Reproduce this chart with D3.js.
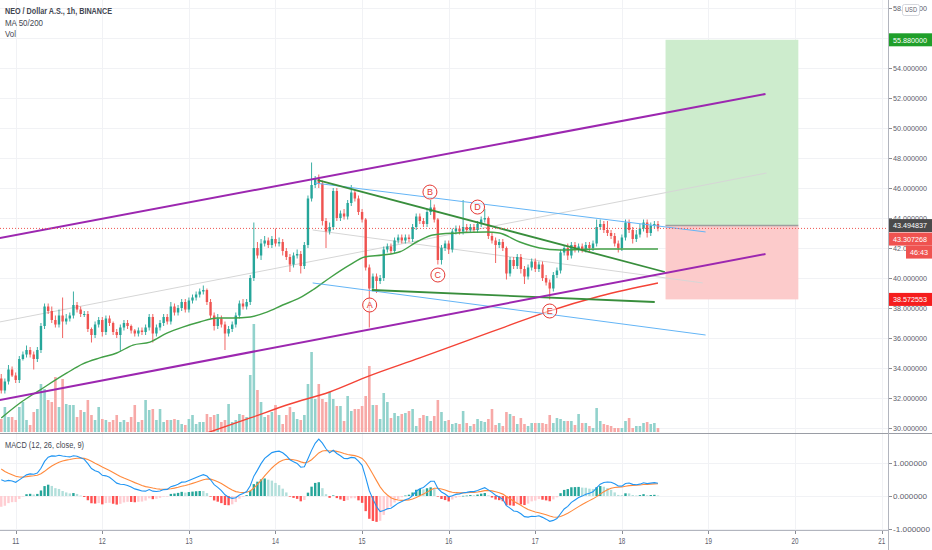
<!DOCTYPE html>
<html>
<head>
<meta charset="utf-8">
<script src="https://cdn.jsdelivr.net/npm/d3@7"></script>
<style>
  html, body { margin: 0; padding: 0; background: #fff; }
  svg { display: block; font-family: "Liberation Sans", Arial, sans-serif; }
</style>
</head>
<body>
<script>
// hourly NEO/USD bars, first bar = day 10 20:00
var firstOpen = 33.3;
var closes = [
  32.5,33.1,33.9,33.5,33.2,34.6,34.9,35.2,34.9,34.6,
  35.2,36.8,38.1,37.8,37.2,36.9,37.5,37.1,37.3,37.5,
  38.2,37.9,37.6,37.6,36.6,36.2,36.9,37.2,36.4,37.3,
  37.0,36.4,36.2,36.7,37.0,36.8,36.5,36.3,36.5,36.4,
  36.7,37.4,36.3,36.7,37.0,37.4,37.1,38.1,37.7,38.0,
  38.4,37.9,38.5,38.7,38.9,39.1,39.2,38.4,37.5,36.8,
  37.3,36.9,36.3,36.6,36.9,37.5,38.3,38.1,38.4,40.0,
  42.0,41.5,42.3,42.5,42.2,42.6,42.3,42.4,41.8,41.4,
  40.9,41.5,41.6,40.8,42.2,45.3,46.2,46.6,46.3,43.8,
  43.1,43.4,45.8,44.0,44.3,44.1,45.0,45.7,45.3,44.4,
  43.9,40.7,39.3,40.1,39.8,40.0,41.9,42.1,41.8,42.5,
  42.7,42.5,42.7,42.6,43.4,44.1,43.8,43.6,44.4,44.7,
  43.9,41.2,42.0,42.3,41.9,43.1,43.3,43.1,43.4,43.2,
  43.4,43.2,43.6,43.9,44.0,42.8,42.5,42.2,42.4,42.0,
  40.3,41.2,40.8,41.4,40.6,40.1,40.7,41.1,40.6,40.9,
  40.0,39.7,39.3,40.2,40.5,41.7,42.0,41.5,42.2,41.9,
  42.1,41.9,42.2,42.0,42.3,43.4,43.6,43.2,43.0,42.8,
  42.3,42.0,42.7,43.7,43.2,42.6,42.9,43.3,43.7,43.0,
  43.5,43.6,43.31
];
// wick length above / below the body
var wickUp = [
  .3,.2,.3,.2,.2,.2,.2,.3,.2,.2,
  .2,.2,.2,.2,.3,.3,.4,1.2,.3,.2,
  .9,.2,.2,.2,.2,.1,.2,.2,.2,.2,
  .2,.1,.2,.2,.2,.2,.1,.1,.2,.2,
  .2,.2,.2,.2,.2,.2,.2,.3,.2,.2,
  .2,.2,.2,.2,.2,.2,.3,.1,.2,.2,
  .3,.2,.2,.2,.2,.2,.2,.3,.2,.2,
  1.7,.4,.3,.3,.2,.2,.7,.3,.2,.2,
  .2,.2,.3,.2,.2,.2,1.5,.2,.3,.2,
  .2,.3,.2,.2,.2,.3,.2,.5,.2,.2,
  .2,.1,.2,.2,.2,.2,.2,.2,.2,.2,
  .2,.2,.2,.2,.2,.2,.2,.2,.2,.5,
  .2,.1,.2,.2,.2,.2,.2,.2,1.8,.2,
  .2,.2,.2,.2,.6,.1,.2,.2,.2,.2,
  .1,.2,.2,.2,.2,.2,.2,.2,.2,.2,
  .2,.2,.2,.2,.2,.2,.2,.3,.2,.2,
  .2,.2,.2,.2,.2,.5,.3,.2,.6,.2,
  .2,.2,.2,.2,.2,.2,.3,.3,.2,.2,
  .2,.2,.2
];
var wickDn = [
  .2,.2,.2,.1,.2,.2,.1,.2,.2,.7,
  .2,.2,.2,.2,.2,.2,.2,1.1,.2,.2,
  .2,.2,.2,.2,.2,.5,.2,.2,.3,.2,
  .2,.2,.2,1.1,.2,.2,.2,.2,.2,.2,
  .2,.2,.6,.2,.2,.2,.2,.2,.2,.2,
  .2,.2,.2,.2,.2,.2,.2,.2,.2,.3,
  .2,.2,1.1,.2,.2,.2,.2,.2,.2,.2,
  .2,.2,.3,.2,.2,.2,.2,.2,.3,.2,
  .5,.2,.2,.5,.2,.2,.2,.2,.3,.3,
  1.1,.2,.2,.2,.2,.2,.2,.2,.2,.2,
  .2,.2,2.6,.2,.8,.2,.2,.2,.2,.2,
  .2,.2,.2,.2,.2,.2,.2,.2,.2,.2,
  .2,.3,.3,.2,.3,.2,.2,.2,.2,.2,
  .2,.2,.2,.2,.2,.2,.2,1.2,.2,.2,
  .4,.2,.2,.2,.3,.5,.2,.2,.2,.2,
  .2,.2,.73,.2,.2,.2,.2,.3,.2,.2,
  .2,.2,.2,.2,.2,.2,.2,.2,.2,.2,
  .2,.3,.2,.2,.2,.3,.2,.2,.2,.3,
  .2,.2,.2
];
var volumes = [
  13,25,15,15,12,25,30,12,7,20,
  23,48,43,32,30,55,25,53,28,27,
  27,15,22,20,32,17,12,25,13,12,
  10,12,17,10,12,10,15,27,10,12,
  32,22,23,12,23,10,12,12,13,12,
  8,7,13,17,8,10,10,18,15,17,
  18,10,12,28,10,12,18,17,15,57,
  108,42,30,15,17,20,27,17,8,17,
  25,20,13,12,17,48,80,33,48,33,
  30,40,33,26,26,11,36,21,23,23,
  26,36,66,27,27,13,39,30,14,19,
  16,18,19,21,23,6,14,17,16,11,
  16,32,20,11,12,8,9,8,21,9,
  6,8,13,11,10,13,23,7,9,6,
  20,18,16,8,14,8,6,9,9,9,
  9,8,17,9,14,13,11,11,11,7,
  18,9,9,6,4,24,11,8,7,6,
  4,4,4,11,14,4,6,6,9,10,
  8,9,4
];
// moving averages: [bar index, price]
var ma50 = [[0,30.67],[5.2,31.67],[10.7,32.53],[18.2,33.67],[22.6,34.27],[27.3,34.67],[32,35.0],
  [36.5,35.53],[41.2,35.73],[45.9,36.33],[50.3,36.73],[55,37.07],[59.8,37.33],[64.2,37.33],[69,37.4],
  [73.6,37.73],[78,38.2],[82.7,38.67],[86.3,39.2],[91,40.0],[96.6,40.87],[100.7,41.4],[105.7,41.53],
  [110.5,41.75],[115.5,42.45],[119.6,42.87],[126.2,43.0],[134.5,43.07],[138,43.0],[143.7,42.4],
  [149.2,42.0],[154.8,41.87],[165.9,41.93],[182,41.93]];
var ma200 = [[50,29.1],[57,29.67],[69,30.67],[80,31.6],[91,32.4],[102,33.47],[116,34.67],[128,35.73],
  [139.5,36.73],[151,37.73],[166,38.8],[182,39.67]];
// EMA12, EMA26 and signal values before the first bar
var macdSeed = [33.3, 32.7, 0.9];

// drawings: [bar index, price]
var purpleTop = [[-0.4, 42.67], [211.8, 52.27]];
var purpleBottom = [[-0.4, 31.87], [211.8, 41.6]];
var greyMid = [[-0.4, 37.07], [212.1, 47.0]];
var blueTop = [[86.9, 46.33], [195.2, 43.07]];
var blueBottom = [[86.3, 39.67], [195.2, 36.2]];
var greyLow = [[86.3, 43.2], [194.4, 39.67]];
var greenTop = [[87.7, 46.53], [183.9, 40.4]];
var greenBottom = [[102.7, 39.2], [181.1, 38.4]];
var waveLabels = ['A', 'B', 'C', 'D', 'E'];
var wavePoints = [[102.1, 38.2], [118.8, 45.73], [121, 40.2], [132, 44.73], [152, 37.8]];
var positionSpan = [184.1, 220.9];
var targetPrice = 55.88, entryPrice = 43.494837, stopPrice = 38.572553;
var lastPrice = 43.307268, countdown = '46:43';

var priceTicks = [30,32,34,36,38,40,42,44,46,48,50,52,54,56,58];
var macdTicks = [-1, 0, 1];
var dayTicks = [11,12,13,14,15,16,17,18,19,20,21];

var axisX = 888, mainBottom = 432, macdTop = 434, macdBottom = 530;
var t0 = new Date(2018, 5, 10, 20);
function barTime(i) { return new Date(t0.getTime() + i * 3600000); }

var x = d3.scaleTime()
  .domain([new Date(2018, 5, 10, 19, 39), new Date(2018, 5, 21, 1, 45)])
  .range([0, axisX]);
var y = d3.scaleLinear().domain([30, 54]).range([428, 68]);
var vy = d3.scaleLinear().domain([0, 100]).range([mainBottom, mainBottom - 100]);
var my = d3.scaleLinear().domain([-1, 1]).range([529, 463]);

var bars = closes.map(function(c, i) {
  var o = i === 0 ? firstOpen : closes[i - 1];
  return { t: barTime(i), o: o, c: c, h: Math.max(o, c) + wickUp[i], l: Math.min(o, c) - wickDn[i], v: volumes[i], up: c >= o };
});

// MACD 12/26/9
var e12 = macdSeed[0], e26 = macdSeed[1], sig = macdSeed[2];
bars.forEach(function(d, i) {
  e12 += (d.c - e12) * 2 / 13;
  e26 += (d.c - e26) * 2 / 27;
  d.macd = e12 - e26;
  sig += (d.macd - sig) * 2 / 10;
  d.signal = sig;
  d.hist = d.macd - sig;
  var prev = i ? bars[i - 1].hist : d.hist;
  if (d.hist >= 0) d.hcol = d.hist >= prev ? '#26a69a' : '#b2dfdb';
  else d.hcol = d.hist < prev ? '#ff5252' : '#ffcdd2';
});

var svg = d3.select('body').append('svg').attr('width', 932).attr('height', 550);
var defs = svg.append('defs');
defs.append('clipPath').attr('id', 'mainClip').append('rect')
  .attr('x', 0).attr('y', 0).attr('width', axisX).attr('height', mainBottom);
defs.append('clipPath').attr('id', 'macdClip').append('rect')
  .attr('x', 0).attr('y', macdTop).attr('width', axisX).attr('height', macdBottom - macdTop);

function fit(sel, w) { return sel.attr('textLength', w).attr('lengthAdjust', 'spacingAndGlyphs'); }
function px(d) { return x(barTime(d[0])); }
function py(d) { return y(d[1]); }

/*GRID*/
var grid = svg.append('g').attr('stroke', '#f1f2f5').attr('stroke-width', 1);
grid.selectAll('line.h').data(priceTicks).enter().append('line')
  .attr('x1', 0).attr('x2', axisX)
  .attr('y1', function(d) { return Math.round(y(d)) + 0.5; })
  .attr('y2', function(d) { return Math.round(y(d)) + 0.5; });
grid.selectAll('line.m').data(macdTicks).enter().append('line')
  .attr('x1', 0).attr('x2', axisX)
  .attr('y1', function(d) { return Math.round(my(d)) + 0.5; })
  .attr('y2', function(d) { return Math.round(my(d)) + 0.5; });
grid.selectAll('line.v').data(dayTicks).enter().append('line')
  .attr('x1', function(d) { return Math.round(x(new Date(2018, 5, d))) + 0.5; })
  .attr('x2', function(d) { return Math.round(x(new Date(2018, 5, d))) + 0.5; })
  .attr('y1', 0).attr('y2', macdBottom);

var main = svg.append('g').attr('clip-path', 'url(#mainClip)');

/*POSITION BOX*/
var bx0 = x(barTime(positionSpan[0])), bx1 = x(barTime(positionSpan[1]));
main.append('rect').attr('x', bx0).attr('width', bx1 - bx0)
  .attr('y', y(targetPrice)).attr('height', y(entryPrice) - y(targetPrice)).attr('fill', '#cdeccd');
main.append('rect').attr('x', bx0).attr('width', bx1 - bx0)
  .attr('y', y(entryPrice)).attr('height', y(stopPrice) - y(entryPrice)).attr('fill', '#fccbcb');
main.append('line').attr('x1', bx0).attr('x2', bx1)
  .attr('y1', y(entryPrice)).attr('y2', y(entryPrice))
  .attr('stroke', '#9e9e9e').attr('stroke-width', 1.5);

/*VOLUME*/
main.selectAll('rect.vol').data(bars).enter().append('rect')
  .attr('class', 'vol')
  .attr('x', function(d) { return x(d.t) - 1.3; })
  .attr('width', 2.6)
  .attr('y', function(d) { return vy(d.v); })
  .attr('height', function(d) { return mainBottom - vy(d.v); })
  .attr('fill', function(d) { return d.up ? '#92d2cc' : '#f7a9a7'; });

/*FAINT LINES*/
var seg = d3.line().x(px).y(py);
[greyMid, greyLow].forEach(function(l) {
  main.append('path').attr('d', seg(l)).attr('fill', 'none').attr('stroke', '#d6d6d6').attr('stroke-width', 1);
});

/*CANDLES*/
main.selectAll('line.wick').data(bars).enter().append('line')
  .attr('x1', function(d) { return x(d.t); })
  .attr('x2', function(d) { return x(d.t); })
  .attr('y1', function(d) { return y(d.h); })
  .attr('y2', function(d) { return y(d.l); })
  .attr('stroke', function(d) { return d.up ? '#26a69a' : '#ef5350'; })
  .attr('stroke-width', 0.9);
main.selectAll('rect.body').data(bars).enter().append('rect')
  .attr('x', function(d) { return x(d.t) - 1.2; })
  .attr('width', 2.4)
  .attr('y', function(d) { return y(Math.max(d.o, d.c)); })
  .attr('height', function(d) { return Math.max(1, Math.abs(y(d.o) - y(d.c))); })
  .attr('fill', function(d) { return d.up ? '#26a69a' : '#ef5350'; });

/*MOVING AVERAGES*/
var maLine = d3.line().x(px).y(py).curve(d3.curveMonotoneX);
main.append('path').attr('d', maLine(ma50)).attr('fill', 'none').attr('stroke', '#43a047').attr('stroke-width', 1.4);
main.append('path').attr('d', maLine(ma200)).attr('fill', 'none').attr('stroke', '#f44336').attr('stroke-width', 1.4);

/*TRENDLINES*/
[blueTop, blueBottom].forEach(function(l) {
  main.append('path').attr('d', seg(l)).attr('fill', 'none').attr('stroke', '#64b5f6').attr('stroke-width', 1);
});
[greenTop, greenBottom].forEach(function(l) {
  main.append('path').attr('d', seg(l)).attr('fill', 'none').attr('stroke', '#388e3c').attr('stroke-width', 1.8);
});
[purpleTop, purpleBottom].forEach(function(l) {
  main.append('path').attr('d', seg(l)).attr('fill', 'none').attr('stroke', '#9c27b0').attr('stroke-width', 2);
});

/*WAVE LABELS*/
var waves = main.selectAll('g.wave').data(wavePoints).enter().append('g')
  .attr('transform', function(d) { return 'translate(' + px(d) + ',' + py(d) + ')'; });
waves.append('circle').attr('r', 7).attr('fill', 'rgba(255,255,255,0.6)')
  .attr('stroke', '#e53935').attr('stroke-width', 1);
waves.append('text').attr('text-anchor', 'middle').attr('dy', '0.35em')
  .attr('font-size', 9).attr('fill', '#e53935')
  .text(function(d, i) { return waveLabels[i]; });

/*LAST PRICE LINE*/
svg.append('line').attr('x1', 0).attr('x2', axisX)
  .attr('y1', y(lastPrice)).attr('y2', y(lastPrice))
  .attr('stroke', '#ef5350').attr('stroke-width', 1).attr('stroke-dasharray', '1,2');

/*MACD*/
var macd = svg.append('g').attr('clip-path', 'url(#macdClip)');
macd.selectAll('rect.hist').data(bars).enter().append('rect')
  .attr('x', function(d) { return x(d.t) - 1.2; })
  .attr('width', 2.4)
  .attr('y', function(d) { return Math.min(my(d.hist), my(0)); })
  .attr('height', function(d) { return Math.max(0.6, Math.abs(my(d.hist) - my(0))); })
  .attr('fill', function(d) { return d.hcol; });
macd.append('path')
  .attr('d', d3.line().x(function(d) { return x(d.t); }).y(function(d) { return my(d.signal); })(bars))
  .attr('fill', 'none').attr('stroke', '#ff8a3d').attr('stroke-width', 1.1);
macd.append('path')
  .attr('d', d3.line().x(function(d) { return x(d.t); }).y(function(d) { return my(d.macd); })(bars))
  .attr('fill', 'none').attr('stroke', '#2196f3').attr('stroke-width', 1.1);

/*FRAME*/
svg.append('line').attr('x1', 0).attr('x2', 932).attr('y1', 433.5).attr('y2', 433.5)
  .attr('stroke', '#9a9da5').attr('stroke-width', 1);
svg.append('line').attr('x1', 0).attr('x2', axisX).attr('y1', macdBottom + 0.5).attr('y2', macdBottom + 0.5)
  .attr('stroke', '#b2b5be').attr('stroke-width', 1);
svg.append('line').attr('x1', axisX + 0.5).attr('x2', axisX + 0.5).attr('y1', 0).attr('y2', 550)
  .attr('stroke', '#b2b5be').attr('stroke-width', 1);

/*PRICE AXIS*/
var pa = svg.append('g');
pa.selectAll('line').data(priceTicks).enter().append('line')
  .attr('x1', axisX + 1).attr('x2', axisX + 4)
  .attr('y1', function(d) { return Math.round(y(d)) + 0.5; })
  .attr('y2', function(d) { return Math.round(y(d)) + 0.5; })
  .attr('stroke', '#8a8d95');
fit(pa.selectAll('text').data(priceTicks).enter().append('text')
  .attr('x', 893).attr('y', function(d) { return y(d); }).attr('dy', '0.35em')
  .attr('font-size', 8).attr('fill', '#5d606b')
  .text(function(d) { return d.toFixed(6); }), 34);

var ma = svg.append('g');
ma.selectAll('line').data(macdTicks).enter().append('line')
  .attr('x1', axisX + 1).attr('x2', axisX + 4)
  .attr('y1', function(d) { return Math.round(my(d)) + 0.5; })
  .attr('y2', function(d) { return Math.round(my(d)) + 0.5; })
  .attr('stroke', '#8a8d95');
ma.selectAll('text').data(macdTicks).enter().append('text')
  .attr('x', 893).attr('y', function(d) { return my(d); }).attr('dy', '0.35em')
  .attr('font-size', 7.5).attr('fill', '#5d606b')
  .attr('textLength', function(d) { return d < 0 ? 37 : 34; }).attr('lengthAdjust', 'spacingAndGlyphs')
  .text(function(d) { return d.toFixed(6); });

/*TIME AXIS*/
var ta = svg.append('g');
ta.selectAll('line').data(dayTicks).enter().append('line')
  .attr('x1', function(d) { return Math.round(x(new Date(2018, 5, d))) + 0.5; })
  .attr('x2', function(d) { return Math.round(x(new Date(2018, 5, d))) + 0.5; })
  .attr('y1', macdBottom + 1).attr('y2', macdBottom + 4).attr('stroke', '#8a8d95');
fit(ta.selectAll('text').data(dayTicks).enter().append('text')
  .attr('x', function(d) { return x(new Date(2018, 5, d)); }).attr('y', 541).attr('dy', '0.35em')
  .attr('text-anchor', 'middle').attr('font-size', 8.5).attr('fill', '#5d606b')
  .text(function(d) { return d; }), 7);

/*AXIS BADGES*/
function badge(cy, fill, label, x0, w, tw) {
  svg.append('rect').attr('x', x0).attr('y', cy - 6.5).attr('width', w).attr('height', 13).attr('fill', fill);
  fit(svg.append('text').attr('x', x0 + 4).attr('y', cy).attr('dy', '0.35em')
    .attr('font-size', 8).attr('fill', '#fff').text(label), tw);
}
var entryY = y(entryPrice), lastY = Math.max(y(lastPrice), entryY + 13.5);
badge(y(targetPrice), '#1f9f2a', targetPrice.toFixed(6), axisX + 1, 43, 34);
badge(entryY, '#4a4a4a', entryPrice.toFixed(6), axisX + 1, 43, 34);
badge(lastY, '#ef5350', lastPrice.toFixed(6), axisX + 1, 43, 34);
badge(lastY + 13, '#ef5350', countdown, 906, 26, 18);
badge(y(stopPrice), '#f51d1d', stopPrice.toFixed(6), axisX + 1, 43, 34);

svg.append('rect').attr('x', 902.5).attr('y', 4.5).attr('width', 17).attr('height', 11).attr('rx', 2)
  .attr('fill', '#fff').attr('stroke', '#d4d6dc');
fit(svg.append('text').attr('x', 905).attr('y', 10).attr('dy', '0.35em')
  .attr('font-size', 6.5).attr('fill', '#5d606b').text('USD'), 12);

/*LEGEND*/
fit(svg.append('text').attr('x', 5).attr('y', 11).attr('dy', '0.35em')
  .attr('font-size', 8.5).attr('font-weight', 'bold').attr('fill', '#434651')
  .text('NEO / Dollar A.S., 1h, BINANCE'), 107);
fit(svg.append('text').attr('x', 5).attr('y', 23).attr('dy', '0.35em')
  .attr('font-size', 8.5).attr('fill', '#434651').text('MA 50/200'), 38);
fit(svg.append('text').attr('x', 5).attr('y', 34).attr('dy', '0.35em')
  .attr('font-size', 8.5).attr('fill', '#434651').text('Vol'), 11);
fit(svg.append('text').attr('x', 5).attr('y', 445).attr('dy', '0.35em')
  .attr('font-size', 8.5).attr('fill', '#434651').text('MACD (12, 26, close, 9)'), 79);
</script>
</body>
</html>
